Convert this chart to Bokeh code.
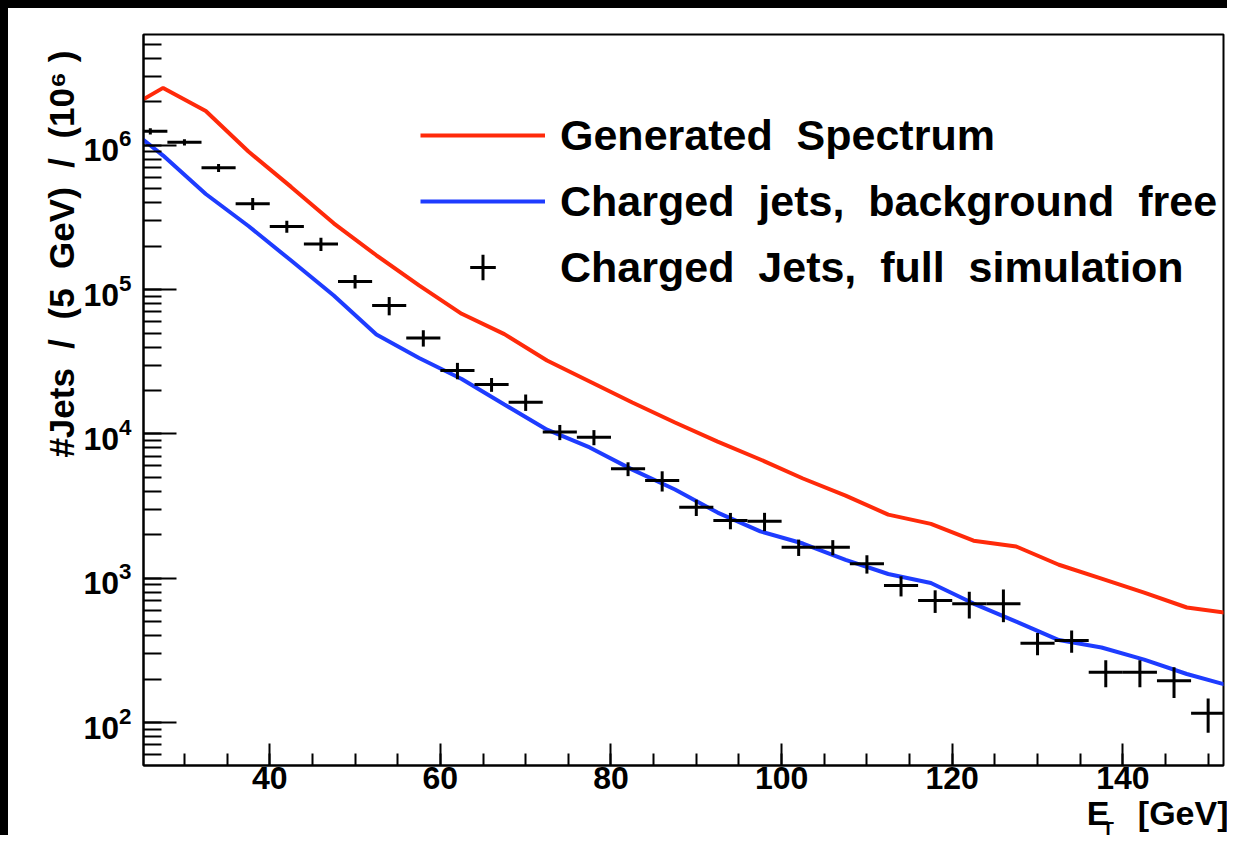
import numpy as np
from bokeh.plotting import figure
from bokeh.models import (Range1d, FixedTicker, LogTicker, Label, Legend,
                          LegendItem, Title)
from bokeh.embed import file_html
from bokeh.resources import INLINE

# ---------------- data ----------------
# full-simulation points (4 GeV bins)
cross_et = [26, 30, 34, 38, 42, 46, 50, 54, 58, 62, 66, 70, 74, 78, 82, 86,
            90, 94, 98, 102, 106, 110, 114, 118, 122, 126, 130, 134, 138, 142,
            146, 150]
cross_counts = [1.25e6, 1.05e6, 6.98e5, 3.94e5, 2.74e5, 2.07e5, 1.14e5, 7.76e4,
                4.63e4, 2.75e4, 2.2e4, 1.66e4, 1.03e4, 9.49e3, 5.73e3, 4.75e3,
                3.1e3, 2.51e3, 2.48e3, 1.64e3, 1.64e3, 1.26e3, 890, 700,
                666, 666, 355, 370, 223, 223, 195, 116]
cross_err = [62000, 52000, 44700, 37800, 26300, 22000, 12200, 11250,
             6000, 3575, 2420, 2160, 1240, 1140, 630, 760,
             400, 326, 360, 213, 197, 183, 142, 125,
             140, 170, 62, 65, 47, 47, 47, 31]
bin_half_width = 2.0

# spectra (5 GeV bins, bin centres)
spectrum_et = [22.5, 27.5, 32.5, 37.5, 42.5, 47.5, 52.5, 57.5, 62.5, 67.5,
               72.5, 77.5, 82.5, 87.5, 92.5, 97.5, 102.5, 107.5, 112.5, 117.5,
               122.5, 127.5, 132.5, 137.5, 142.5, 147.5, 152.5]
generated = [1.69e6, 2.50e6, 1.73e6, 9.06e5, 5.15e5, 2.88e5, 1.73e5, 1.07e5,
             6.8e4, 4.92e4, 3.23e4, 2.31e4, 1.65e4, 1.20e4, 8.85e3, 6.65e3,
             4.91e3, 3.74e3, 2.76e3, 2.38e3, 1.82e3, 1.66e3, 1.24e3, 995,
             796, 627, 573]
charged_free = [1.46e6, 8.49e5, 4.60e5, 2.76e5, 1.59e5, 9.1e4, 4.89e4, 3.36e4,
                2.4e4, 1.60e4, 1.07e4, 8.06e3, 5.66e3, 4.12e3, 2.85e3, 2.11e3,
                1.74e3, 1.34e3, 1.07e3, 927, 668, 501, 373, 331,
                273, 217, 180]

x_major = [40, 60, 80, 100, 120, 140]
x_minor = list(range(25, 155, 5))

NB = "\u00a0"
legend_labels = ["Generated  Spectrum",
                 "Charged  jets,  background  free",
                 "Charged  Jets,  full  simulation"]
y_title = ("#Jets" + NB * 2 + "/" + NB * 2 + "(5" + NB * 2 + "GeV)" + NB * 2
           + "/" + NB * 2 + "(10\u2076" + NB + ")")
x_title_main = "E" + NB * 3 + "[GeV]"
x_title_sub = "T"

FONT = "Liberation Sans"
RED = "#ff2a0a"
BLUE = "#1e3cff"

# ---------------- figure ----------------
p = figure(width=1227, height=835, y_axis_type="log",
           x_range=Range1d(25.2, 151.8), y_range=Range1d(50.4, 5.86e6),
           output_backend="svg", toolbar_location=None,
           min_border_left=135, min_border_right=12,
           min_border_top=26, min_border_bottom=78)
p.styles = {"border-left": "8px solid black", "border-top": "8px solid black"}
p.background_fill_color = "white"
p.border_fill_color = "white"
p.outline_line_color = "black"
p.outline_line_width = 2
p.grid.visible = False

# spectra
r_red = p.line(spectrum_et, generated, line_color=RED, line_width=4)
r_blue = p.line(spectrum_et, charged_free, line_color=BLUE, line_width=4)

# crosses
cx = np.array(cross_et, dtype=float)
cy = np.array(cross_counts, dtype=float)
ce = np.array(cross_err, dtype=float)
p.segment(x0=cx - bin_half_width, y0=cy, x1=cx + bin_half_width, y1=cy,
          line_color="black", line_width=3)
p.segment(x0=cx, y0=cy - ce, x1=cx, y1=cy + ce,
          line_color="black", line_width=3)
r_cross = p.scatter(cx, cy, marker="cross", size=0, line_color="black",
                    line_width=3, visible=False)

# axes
xa = p.xaxis[0]
xa.ticker = FixedTicker(ticks=x_major, minor_ticks=x_minor)
ya = p.yaxis[0]
ya.ticker = LogTicker(desired_num_ticks=6, num_minor_ticks=10)
for ax in (xa, ya):
    ax.axis_line_color = "black"
    ax.axis_line_width = 2
    ax.major_tick_line_color = "black"
    ax.minor_tick_line_color = "black"
    ax.major_tick_line_width = 2
    ax.minor_tick_line_width = 2
    ax.major_tick_out = 0
    ax.minor_tick_out = 0
    ax.major_label_text_font = FONT
    ax.major_label_text_font_style = "bold"
    ax.major_label_text_font_size = "32px"
    ax.major_label_text_color = "black"
xa.major_tick_in = 22
xa.minor_tick_in = 12
xa.major_label_standoff = 1
ya.major_tick_in = 33
ya.minor_tick_in = 18
ya.major_label_standoff = 12

# axis titles (ROOT style, right-aligned)
p.add_layout(Title(text=y_title, align="right", offset=16, standoff=0,
                   text_font=FONT, text_font_style="bold",
                   text_font_size="35px", text_color="black"), "left")
p.add_layout(Title(text=x_title_main, align="right", offset=-5, standoff=0,
                   text_font=FONT, text_font_style="bold",
                   text_font_size="34px", text_color="black"), "below")
p.add_layout(Label(x=137.6, y=18.4, text=x_title_sub, text_align="left",
                   text_baseline="middle", text_font=FONT,
                   text_font_style="bold", text_font_size="19px",
                   text_color="black"), "right")

# legend
legend = Legend(items=[LegendItem(label=legend_labels[0], renderers=[r_red]),
                       LegendItem(label=legend_labels[1], renderers=[r_blue]),
                       LegendItem(label=legend_labels[2], renderers=[r_cross])],
                location=(277, 466), orientation="vertical",
                glyph_width=125, glyph_height=64, label_height=64,
                label_standoff=15, spacing=2, padding=0, margin=0,
                border_line_alpha=0, background_fill_alpha=0,
                label_text_font=FONT, label_text_font_style="bold",
                label_text_font_size="43px", label_text_color="black")
p.add_layout(legend)

open("out.html", "w").write(file_html(p, INLINE))
